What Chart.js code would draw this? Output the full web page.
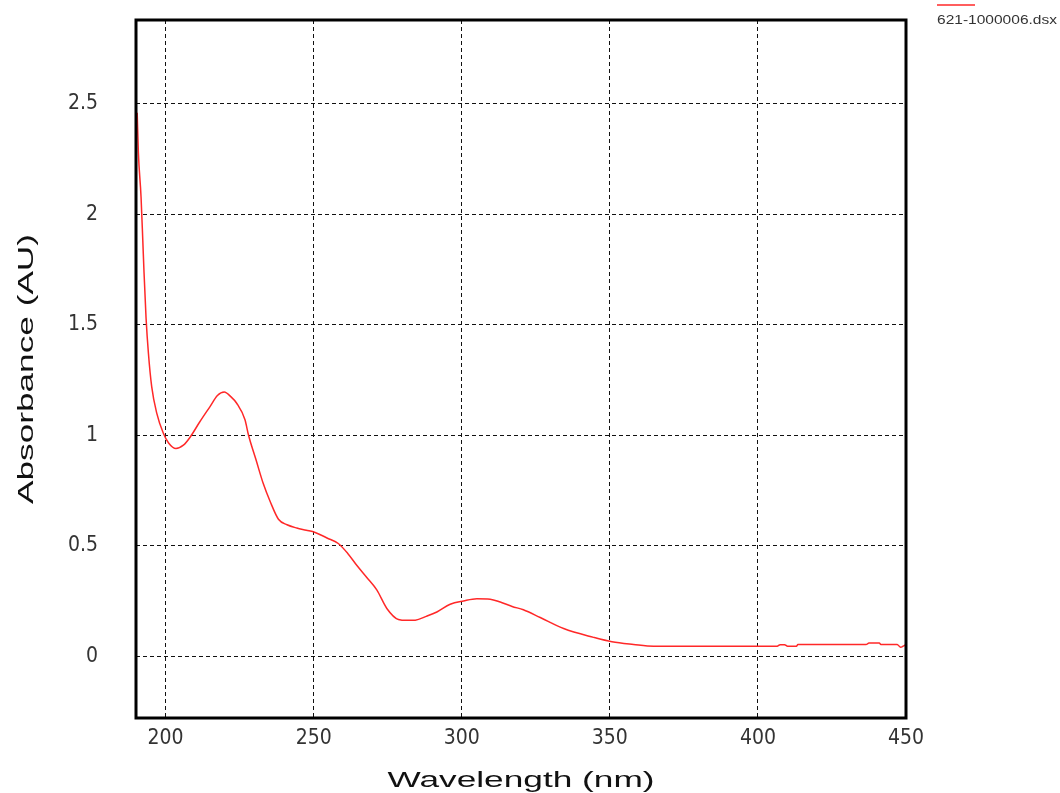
<!DOCTYPE html>
<html>
<head>
<meta charset="utf-8">
<script src="https://cdn.jsdelivr.net/npm/chart.js@4.4.1/dist/chart.umd.min.js"></script>
<style>
    html, body { margin: 0; padding: 0; background: #ffffff; }
    #wrap { width: 1060px; height: 793px; }
</style>
</head>
<body>
<div id="wrap"><canvas id="spectrum" width="1060" height="793"></canvas></div>
<script>
// spectrum
var wavelengths = [
    190.4, 190.8, 191.7, 192.3, 192.7, 193.4, 194.2, 195.3, 197.0, 199.2,
    201.0, 203.5, 206.0, 208.2, 211.5, 215.0, 217.5, 219.8, 222.0, 224.0,
    226.8, 228.0, 230.5, 233.0, 235.3, 238.1, 241.0, 244.3, 247.5, 250.5,
    254.5, 258.3, 261.5, 264.6, 268.0, 271.3, 274.7, 278.6, 281.5, 284.3,
    288.0, 291.6, 296.1, 300.6, 305.1, 309.6, 313.0, 317.0, 320.8, 326.5,
    334.4, 344.5, 350.7, 358.0, 364.8, 373.8, 390.0, 406.5, 407.5, 409.0,
    410.0, 413.0, 413.5, 436.5, 437.5, 441.0, 441.5, 447.0, 448.2, 449.0,
    450.0
];
var absorbance = [
    2.46, 2.28, 2.08, 1.88, 1.74, 1.53, 1.37, 1.22, 1.10, 1.01,
    0.965, 0.94, 0.955, 0.99, 1.06, 1.13, 1.18, 1.196, 1.175, 1.145,
    1.07, 1.00, 0.89, 0.78, 0.70, 0.62, 0.595, 0.58, 0.57, 0.56,
    0.535, 0.51, 0.465, 0.41, 0.355, 0.30, 0.216, 0.166, 0.162, 0.163,
    0.18, 0.20, 0.235, 0.25, 0.26, 0.258, 0.245, 0.225, 0.21, 0.175,
    0.125, 0.085, 0.065, 0.053, 0.045, 0.045, 0.045, 0.045, 0.052, 0.052,
    0.045, 0.045, 0.053, 0.053, 0.059, 0.059, 0.053, 0.053, 0.04, 0.045,
    0.053
];
var seriesName = "621-1000006.dsx";
var xTitle = "Wavelength (nm)";
var yTitle = "Absorbance (AU)";

var points = wavelengths.map(function (w, i) {
    return { x: w, y: absorbance[i] };
});

// draws text squeezed or stretched to a given width
function drawWide(ctx, text, x, y, width, align) {
    var w = ctx.measureText(text).width;
    ctx.save();
    ctx.translate(x, y);
    ctx.scale(width / w, 1);
    ctx.textAlign = align;
    ctx.fillText(text, 0, 0);
    ctx.restore();
}

var frameAndText = {
    id: 'frameAndText',
    afterDraw: function (chart) {
        var ctx = chart.ctx;
        var a = chart.chartArea;

        // thick frame round the plot
        ctx.save();
        ctx.strokeStyle = '#000000';
        ctx.lineWidth = 3;
        ctx.strokeRect(a.left, a.top, a.right - a.left, a.bottom - a.top);

        // axis titles
        ctx.fillStyle = '#111111';
        ctx.font = '22px "Liberation Sans", Arial, sans-serif';
        ctx.textBaseline = 'alphabetic';
        drawWide(ctx, xTitle, (a.left + a.right) / 2, 787, 267, 'center');

        ctx.save();
        ctx.translate(33, (a.top + a.bottom) / 2);
        ctx.rotate(-Math.PI / 2);
        drawWide(ctx, yTitle, 0, 0, 270, 'center');
        ctx.restore();

        // legend in the top right corner
        var ds = chart.data.datasets[0];
        ctx.strokeStyle = ds.borderColor;
        ctx.lineWidth = 1.5;
        ctx.beginPath();
        ctx.moveTo(a.right + 31, 5);
        ctx.lineTo(a.right + 69, 5);
        ctx.stroke();
        ctx.fillStyle = '#333333';
        ctx.font = '13px "Liberation Sans", Arial, sans-serif';
        drawWide(ctx, ds.label, a.right + 31, 24, 120, 'left');
        ctx.restore();
    }
};

var tickFont = { family: '"Liberation Sans Narrow", "DejaVu Sans Condensed", Arial, sans-serif', size: 21 };

function plainNumber(value) {
    return String(+value.toFixed(2));
}

new Chart(document.getElementById('spectrum'), {
    type: 'line',
    data: {
        datasets: [{
            label: seriesName,
            data: points,
            borderColor: 'rgb(255, 40, 40)',
            borderWidth: 1.5,
            pointRadius: 0,
            fill: false,
            cubicInterpolationMode: 'monotone'
        }]
    },
    options: {
        responsive: false,
        animation: false,
        layout: {
            padding: { left: 0, right: 154, top: 20, bottom: 0 }
        },
        plugins: {
            legend: { display: false },
            tooltip: { enabled: false }
        },
        scales: {
            x: {
                type: 'linear',
                min: 190,
                max: 450,
                afterFit: function (scale) {
                    scale.height = 75;
                    scale.paddingLeft = 0;
                    scale.paddingRight = 0;
                },
                ticks: {
                    stepSize: 50,
                    includeBounds: false,
                    padding: 8,
                    color: '#333333',
                    font: tickFont,
                    maxRotation: 0,
                    callback: plainNumber
                },
                grid: {
                    color: '#111111',
                    lineWidth: 1,
                    drawTicks: false
                },
                border: { display: false, dash: [4, 3] }
            },
            y: {
                type: 'linear',
                min: -0.28,
                max: 2.88,
                afterFit: function (scale) {
                    scale.width = 136;
                    scale.paddingTop = 0;
                    scale.paddingBottom = 0;
                },
                ticks: {
                    stepSize: 0.5,
                    includeBounds: false,
                    padding: 38,
                    color: '#333333',
                    font: tickFont,
                    callback: plainNumber
                },
                grid: {
                    color: '#111111',
                    lineWidth: 1,
                    drawTicks: false
                },
                border: { display: false, dash: [4, 3] }
            }
        }
    },
    plugins: [frameAndText]
});
</script>
</body>
</html>
